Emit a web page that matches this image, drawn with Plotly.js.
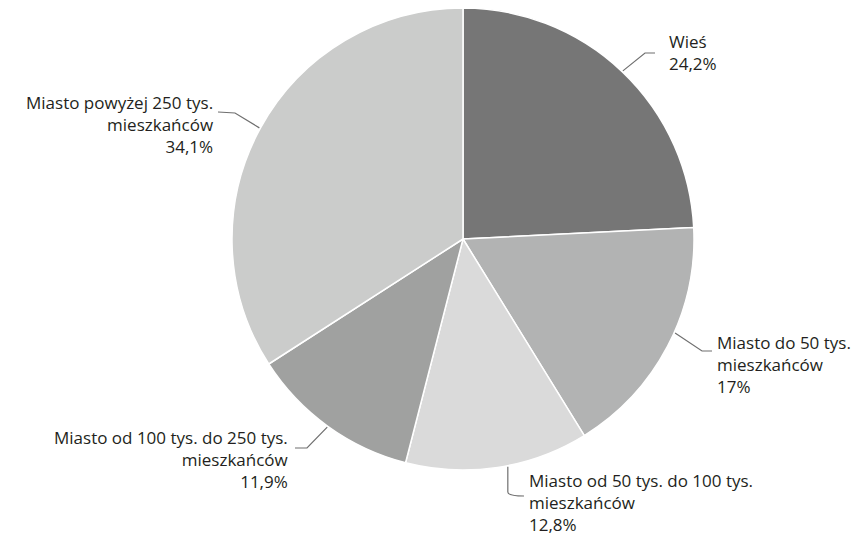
<!DOCTYPE html>
<html>
<head>
<meta charset="utf-8">
<script src="https://cdn.plot.ly/plotly-3.0.1.min.js"></script>
<style>html,body{margin:0;padding:0;background:#fff;}#chart{width:864px;height:539px;}</style>
</head>
<body>
<div id="chart"></div>
<script>
// ---- data ----
const categories = [
  "Wieś",
  "Miasto do 50 tys. mieszkańców",
  "Miasto od 50 tys. do 100 tys. mieszkańców",
  "Miasto od 100 tys. do 250 tys. mieszkańców",
  "Miasto powyżej 250 tys. mieszkańców"
];
const labelLines = [
  ["Wieś"],
  ["Miasto do 50 tys.", "mieszkańców"],
  ["Miasto od 50 tys. do 100 tys.", "mieszkańców"],
  ["Miasto od 100 tys. do 250 tys.", "mieszkańców"],
  ["Miasto powyżej 250 tys.", "mieszkańców"]
];
const values = [24.2, 17, 12.8, 11.9, 34.1];
const colors = ["#767676", "#b2b3b3", "#dadada", "#a0a1a0", "#cbcccb"];

// ---- layout config (pixels) ----
const W = 864, H = 539;
const CX = 463, CY = 239, R = 231;
// label placement: text block centre, side, leader-line angle tweak (deg), elbow and end of leader line
const labelPos = [
  {x: 668, y: 52,  side: "left",  adj: 0,    elbow: [645, 53],  end: [655, 53]},
  {x: 716, y: 364, side: "left",  adj: -3.8, elbow: [702, 351], end: [712, 351]},
  {x: 528, y: 503, side: "left",  adj: -2.5, elbow: [508, 492], end: [524, 496], curve: true},
  {x: 289, y: 459, side: "right", adj: 0,    elbow: [307, 448], end: [295, 448]},
  {x: 214, y: 125, side: "right", adj: 0,    elbow: [235, 113], end: [218, 112]}
];

const px = x => x / W;
const py = y => 1 - y / H;

const total = values.reduce((a, b) => a + b, 0);
const fmt = v => String(v).split(".").join(",") + "%";

const annotations = [];
const shapes = [];
let cum = 0;
values.forEach((v, i) => {
  const p = labelPos[i];
  const mid = (cum + v / 2) / total * 2 * Math.PI + p.adj * Math.PI / 180;
  cum += v;
  const ex = CX + (R + 1) * Math.sin(mid);
  const ey = CY - (R + 1) * Math.cos(mid);
  annotations.push({
    xref: "paper", yref: "paper",
    x: px(p.x), y: py(p.y),
    xanchor: p.side, yanchor: "middle", align: p.side,
    showarrow: false, borderpad: 0,
    text: labelLines[i].concat([fmt(v)]).join("<br>"),
    font: {family: "'Open Sans', 'Noto Sans', sans-serif", size: 17, color: "#231f20"}
  });
  let path;
  if (p.curve) {
    path = `M ${px(ex)},${py(ey)} L ${px(ex)},${py(p.elbow[1])} Q ${px(ex)},${py(p.end[1])} ${px(p.end[0])},${py(p.end[1])}`;
  } else {
    path = `M ${px(ex)},${py(ey)} L ${px(p.elbow[0])},${py(p.elbow[1])} L ${px(p.end[0])},${py(p.end[1])}`;
  }
  shapes.push({type: "path", xref: "paper", yref: "paper", path: path,
    line: {color: "#6f6f6f", width: 1.2}});
});

const trace = {
  type: "pie",
  labels: categories,
  values: values,
  sort: false,
  direction: "clockwise",
  rotation: 0,
  textinfo: "none",
  hoverinfo: "label+percent",
  marker: {colors: colors, line: {color: "#ffffff", width: 1.5}},
  domain: {x: [px(CX - R), px(CX + R)], y: [py(CY + R), py(CY - R)]},
  showlegend: false
};

Plotly.newPlot("chart", [trace], {
  width: W, height: H,
  margin: {l: 0, r: 0, t: 0, b: 0},
  paper_bgcolor: "#ffffff",
  showlegend: false,
  annotations: annotations,
  shapes: shapes
}, {displayModeBar: false, staticPlot: true});
</script>
</body>
</html>
